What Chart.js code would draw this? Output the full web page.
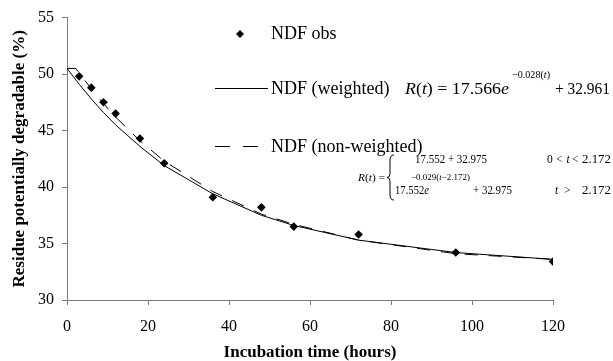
<!DOCTYPE html>
<html><head><meta charset="utf-8">
<script src="https://cdn.jsdelivr.net/npm/chart.js@4.4.0/dist/chart.umd.min.js"></script>
<style>html,body{margin:0;padding:0;background:#fff;}</style>
</head><body>
<canvas id="c" width="613" height="361" style="display:block;width:613px;height:361px"></canvas>
<script>
// ---- data ----
const hoursObs = [3, 6, 9, 12, 18, 24, 36, 48, 56, 72, 96, 120];
const ndfObs = [49.8, 48.8, 47.5, 46.5, 44.3, 42.1, 39.1, 38.2, 36.5, 35.8, 34.2, 33.4];
const hoursWeighted = [0, 3, 6, 9, 12, 18, 24, 36, 48, 56, 72, 96, 120];
const ndfWeighted = [50.5, 49.1, 47.8, 46.6, 45.5, 43.6, 41.9, 39.4, 37.5, 36.6, 35.3, 34.2, 33.6];
const hoursNonWeighted = [0, 2.172, 3, 6, 9, 12, 18, 24, 36, 48, 56, 72, 96, 120];
const ndfNonWeighted = [50.5, 50.5, 50.1, 48.7, 47.4, 46.2, 44.1, 42.3, 39.6, 37.6, 36.7, 35.3, 34.1, 33.6];
const xTicks = [0, 20, 40, 60, 80, 100, 120];
const yTicks = [30, 35, 40, 45, 50, 55];
const seriesNames = ['NDF obs', 'NDF (weighted)', 'NDF (non-weighted)'];

const SERIF = "'Liberation Serif', 'Times New Roman', serif";
const pairs = (xs, ys) => xs.map((x, i) => ({x: x, y: ys[i]}));

function drawRich(ctx, segs, x, y, size, width) {
  // segs: [text, italic]
  let total = 0;
  const ws = segs.map(s => { ctx.font = (s[1] ? 'italic ' : '') + size + 'px ' + SERIF; const w = ctx.measureText(s[0]).width; total += w; return w; });
  const k = width ? width / total : 1;
  ctx.save();
  ctx.translate(x, y);
  ctx.scale(k, 1);
  let cx = 0;
  segs.forEach((s, i) => { ctx.font = (s[1] ? 'italic ' : '') + size + 'px ' + SERIF; ctx.fillText(s[0], cx, 0); cx += ws[i]; });
  ctx.restore();
}

const legendPlugin = {
  id: 'legendEq',
  afterDraw(chart) {
    const ctx = chart.ctx;
    ctx.save();
    ctx.fillStyle = '#000';
    ctx.strokeStyle = '#000';
    ctx.textBaseline = 'alphabetic';
    ctx.textAlign = 'left';
    // row 1: marker
    ctx.beginPath();
    ctx.moveTo(240, 30); ctx.lineTo(244, 34); ctx.lineTo(240, 38); ctx.lineTo(236, 34); ctx.closePath();
    ctx.fill();
    ctx.font = '18px ' + SERIF;
    ctx.fillText(seriesNames[0], 271, 39);
    // row 2
    ctx.lineWidth = 1;
    ctx.beginPath(); ctx.moveTo(215, 88.5); ctx.lineTo(268, 88.5); ctx.stroke();
    ctx.fillText(seriesNames[1], 271, 94);
    drawRich(ctx, [['R', true], ['(', false], ['t', true], [') = 17.566', false], ['e', true]], 405, 94, 16, 104);
    drawRich(ctx, [['\u22120.028(', false], ['t', true], [')', false]], 512, 78, 11, 38);
    drawRich(ctx, [['+ 32.961', false]], 555, 94, 16, 55);
    // row 3
    ctx.setLineDash([15, 13]);
    ctx.beginPath(); ctx.moveTo(215, 146.5); ctx.lineTo(268, 146.5); ctx.stroke();
    ctx.setLineDash([]);
    ctx.font = '18px ' + SERIF;
    ctx.fillText(seriesNames[2], 271, 152);
    // piecewise equation
    drawRich(ctx, [['R', true], ['(', false], ['t', true], [') =', false]], 358, 181, 11, 27);
    // brace
    const bx = 390, bt = 155, bb = 200, bm = (bt + bb) / 2;
    ctx.beginPath();
    ctx.moveTo(bx + 4, bt);
    ctx.quadraticCurveTo(bx, bt, bx, bt + 5);
    ctx.lineTo(bx, bm - 4);
    ctx.quadraticCurveTo(bx, bm, bx - 3, bm);
    ctx.quadraticCurveTo(bx, bm, bx, bm + 4);
    ctx.lineTo(bx, bb - 5);
    ctx.quadraticCurveTo(bx, bb, bx + 4, bb);
    ctx.stroke();
    drawRich(ctx, [['17.552 + 32.975', false]], 415, 163, 11.5, 72);
    // condition row 1
    ctx.font = '11.5px ' + SERIF;
    ctx.fillText('0', 547, 163);
    ctx.fillText('<', 556, 163);
    ctx.font = 'italic 11.5px ' + SERIF;
    ctx.fillText('t', 566.5, 163);
    ctx.font = '11.5px ' + SERIF;
    ctx.fillText('<', 572, 163);
    drawRich(ctx, [['2.172', false]], 582, 163, 11.5, 29);
    // row 2
    drawRich(ctx, [['17.552', false], ['e', true]], 395, 194, 11.5, 34);
    drawRich(ctx, [['\u22120.029(', false], ['t', true], ['\u22122.172)', false]], 411, 180, 9, 59);
    drawRich(ctx, [['+ 32.975', false]], 473, 194, 11.5, 39);
    ctx.font = 'italic 11.5px ' + SERIF;
    ctx.fillText('t', 555, 194);
    ctx.font = '11.5px ' + SERIF;
    ctx.fillText('>', 564, 194);
    drawRich(ctx, [['2.172', false]], 582, 194, 11.5, 29);
    ctx.restore();
  }
};

const axisColor = '#7a7a7a';
new Chart(document.getElementById('c'), {
  type: 'scatter',
  data: {
    datasets: [
      { label: seriesNames[0], data: pairs(hoursObs, ndfObs), showLine: false, pointStyle: 'rectRot', pointRadius: 4.3, pointBackgroundColor: '#000', pointBorderColor: '#000', pointBorderWidth: 0 },
      { label: seriesNames[1], data: pairs(hoursWeighted, ndfWeighted), showLine: true, borderColor: '#000', borderWidth: 1, pointRadius: 0, tension: 0 },
      { label: seriesNames[2], data: pairs(hoursNonWeighted, ndfNonWeighted), showLine: true, borderColor: '#000', borderWidth: 1, borderDash: [13, 11], pointRadius: 0, tension: 0 }
    ]
  },
  options: {
    responsive: false,
    animation: false,
    devicePixelRatio: 1,
    layout: { padding: { left: 0, right: 60, top: 15, bottom: 0 } },
    plugins: { legend: { display: false }, tooltip: { enabled: false } },
    scales: {
      x: {
        type: 'linear', min: 0, max: 120,
        afterBuildTicks: s => { s.ticks = xTicks.map(v => ({value: v})); },
        afterFit: s => { s.height = 61; },
        grid: { drawOnChartArea: false, drawTicks: true, tickLength: 5, color: axisColor },
        border: { display: true, color: axisColor, width: 1 },
        ticks: { color: '#000', font: { family: SERIF, size: 16 }, padding: 12, maxRotation: 0 },
        title: { display: true, text: 'Incubation time (hours)', color: '#000', font: { family: SERIF, size: 17, weight: 'bold', lineHeight: 1 }, padding: 0 }
      },
      y: {
        type: 'linear', min: 30, max: 55,
        afterBuildTicks: s => { s.ticks = yTicks.map(v => ({value: v})); },
        afterFit: s => { s.width = 67; },
        grid: { drawOnChartArea: false, drawTicks: true, tickLength: 5, color: axisColor },
        border: { display: true, color: axisColor, width: 1 },
        ticks: { color: '#000', font: { family: SERIF, size: 16 }, padding: 8 },
        title: { display: true, text: 'Residue potentially degradable (%)', color: '#000', font: { family: SERIF, size: 17, weight: 'bold', lineHeight: 1 }, padding: { top: 11, bottom: 0 } }
      }
    }
  },
  plugins: [legendPlugin]
});
</script>
</body></html>
